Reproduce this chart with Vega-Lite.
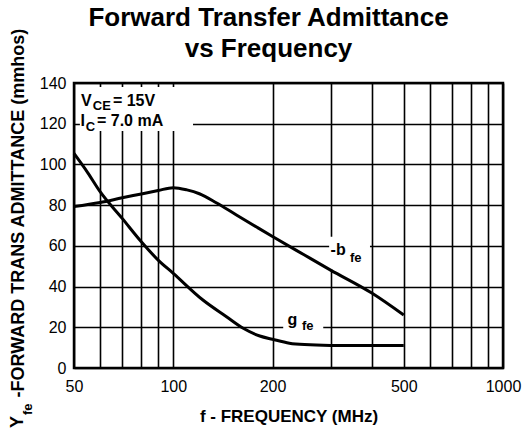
{
  "$schema": "https://vega.github.io/schema/vega-lite/v6.json",
  "width": 429,
  "height": 285,
  "autosize": {"type": "none"},
  "padding": {"left": 74, "top": 83, "right": 24, "bottom": 65},
  "background": "white",
  "title": {
    "text": ["Forward Transfer Admittance", "vs Frequency"],
    "fontSize": 26,
    "font": "Liberation Sans",
    "fontWeight": "bold",
    "color": "black",
    "lineHeight": 31,
    "anchor": "middle",
    "dx": -20,
    "offset": -34
  },
  "config": {
    "view": {"stroke": "black", "strokeWidth": 2.5},
    "font": "Liberation Sans"
  },
  "datasets": {
    "curves": [
      {"s": "b", "f": 50, "v": 79.3}, {"s": "b", "f": 60, "v": 81.3}, {"s": "b", "f": 70, "v": 83.6},
      {"s": "b", "f": 80, "v": 85.5}, {"s": "b", "f": 90, "v": 87.2}, {"s": "b", "f": 100, "v": 88.6},
      {"s": "b", "f": 110, "v": 87.5}, {"s": "b", "f": 120, "v": 85.6}, {"s": "b", "f": 135, "v": 81.2},
      {"s": "b", "f": 155, "v": 75.3}, {"s": "b", "f": 180, "v": 69.0}, {"s": "b", "f": 200, "v": 64.6},
      {"s": "b", "f": 250, "v": 55.5}, {"s": "b", "f": 300, "v": 48.1}, {"s": "b", "f": 400, "v": 36.8},
      {"s": "b", "f": 500, "v": 26.0},
      {"s": "g", "f": 50, "v": 105.4}, {"s": "g", "f": 55, "v": 96.0}, {"s": "g", "f": 60, "v": 86.6},
      {"s": "g", "f": 70, "v": 73.5}, {"s": "g", "f": 80, "v": 62.0}, {"s": "g", "f": 90, "v": 53.0},
      {"s": "g", "f": 100, "v": 46.5}, {"s": "g", "f": 123, "v": 33.4}, {"s": "g", "f": 145, "v": 25.2},
      {"s": "g", "f": 163, "v": 19.5}, {"s": "g", "f": 183, "v": 15.7}, {"s": "g", "f": 200, "v": 14.1},
      {"s": "g", "f": 225, "v": 12.2}, {"s": "g", "f": 250, "v": 11.5}, {"s": "g", "f": 300, "v": 11.1},
      {"s": "g", "f": 400, "v": 11.0}, {"s": "g", "f": 500, "v": 11.0}
    ],
    "boxes": [
      {"f": 52.1, "f2": 114.8, "v": 116.4, "v2": 138.0},
      {"f": 297, "f2": 395, "v": 48.5, "v2": 64.5},
      {"f": 215.5, "f2": 285, "v": 16.7, "v2": 26.5}
    ],
    "labels": [
      {"t": "V", "f": 52.5, "v": 128.7},
      {"t": "= 15V", "f": 65.6, "v": 128.7},
      {"t": "I", "f": 52.3, "v": 118.9},
      {"t": "= 7.0 mA", "f": 58.7, "v": 118.9},
      {"t": "-b", "f": 300, "v": 55.5},
      {"t": "g", "f": 222, "v": 21.1}
    ],
    "subs": [
      {"t": "CE", "f": 57.0, "v": 126.7},
      {"t": "C", "f": 54.3, "v": 116.4},
      {"t": "fe", "f": 343.5, "v": 52.2},
      {"t": "fe", "f": 245.5, "v": 18.7}
    ],
    "ymain": [{"t": "Y", "f": 35.0, "v": -29.5}],
    "ysub": [{"t": "fe", "f": 37.2, "v": -23.1}]
  },
  "encoding": {
    "x": {
      "field": "f",
      "type": "quantitative",
      "scale": {"type": "log", "domain": [50, 1000], "nice": false},
      "axis": {
        "title": "f - FREQUENCY (MHz)",
        "values": [50, 60, 70, 80, 90, 100, 200, 300, 400, 500, 600, 700, 800, 900, 1000],
        "format": "d",
        "labelExpr": "indexof([50,100,200,500,1000], datum.value) >= 0 ? datum.label : ''",
        "grid": true,
        "gridColor": "black",
        "gridWidth": 1.6,
        "gridOpacity": 1,
        "ticks": false,
        "domain": false,
        "labelFont": "Liberation Sans",
        "labelFontSize": 16,
        "labelColor": "black",
        "labelPadding": 10,
        "labelFlush": false,
        "labelOverlap": false,
        "labelBound": false,
        "titleFont": "Liberation Sans",
        "titleFontSize": 17,
        "titleFontWeight": "bold",
        "titleColor": "black",
        "titlePadding": 14
      }
    },
    "y": {
      "field": "v",
      "type": "quantitative",
      "scale": {"domain": [0, 140], "nice": false},
      "axis": {
        "title": "-FORWARD TRANS ADMITTANCE (mmhos)",
        "values": [0, 20, 40, 60, 80, 100, 120, 140],
        "grid": true,
        "gridColor": "black",
        "gridWidth": 1.6,
        "gridOpacity": 1,
        "ticks": false,
        "domain": false,
        "labelFont": "Liberation Sans",
        "labelFontSize": 16,
        "labelColor": "black",
        "labelPadding": 8,
        "titleFont": "Liberation Sans",
        "titleFontSize": 18,
        "titleFontWeight": "bold",
        "titleColor": "black",
        "titleAngle": 270,
        "titleAlign": "left",
        "titleBaseline": "alphabetic",
        "titleX": -51,
        "titleY": 314
      }
    }
  },
  "layer": [
    {
      "data": {"name": "boxes"},
      "mark": {"type": "rect", "fill": "white", "stroke": null},
      "encoding": {"x2": {"field": "f2"}, "y2": {"field": "v2"}}
    },
    {
      "data": {"name": "curves"},
      "mark": {"type": "line", "color": "black", "strokeWidth": 3, "interpolate": "monotone"},
      "encoding": {"detail": {"field": "s"}}
    },
    {
      "data": {"name": "labels"},
      "mark": {"type": "text", "font": "Liberation Sans", "fontWeight": "bold", "fontSize": 16, "align": "left", "baseline": "alphabetic", "color": "black"},
      "encoding": {"text": {"field": "t"}}
    },
    {
      "data": {"name": "subs"},
      "mark": {"type": "text", "font": "Liberation Sans", "fontWeight": "bold", "fontSize": 13, "align": "left", "baseline": "alphabetic", "color": "black"},
      "encoding": {"text": {"field": "t"}}
    },
    {
      "data": {"name": "ymain"},
      "mark": {"type": "text", "font": "Liberation Sans", "fontWeight": "bold", "fontSize": 18, "align": "left", "baseline": "alphabetic", "angle": 270, "color": "black"},
      "encoding": {"text": {"field": "t"}}
    },
    {
      "data": {"name": "ysub"},
      "mark": {"type": "text", "font": "Liberation Sans", "fontWeight": "bold", "fontSize": 13, "align": "left", "baseline": "alphabetic", "angle": 270, "color": "black"},
      "encoding": {"text": {"field": "t"}}
    }
  ]
}
